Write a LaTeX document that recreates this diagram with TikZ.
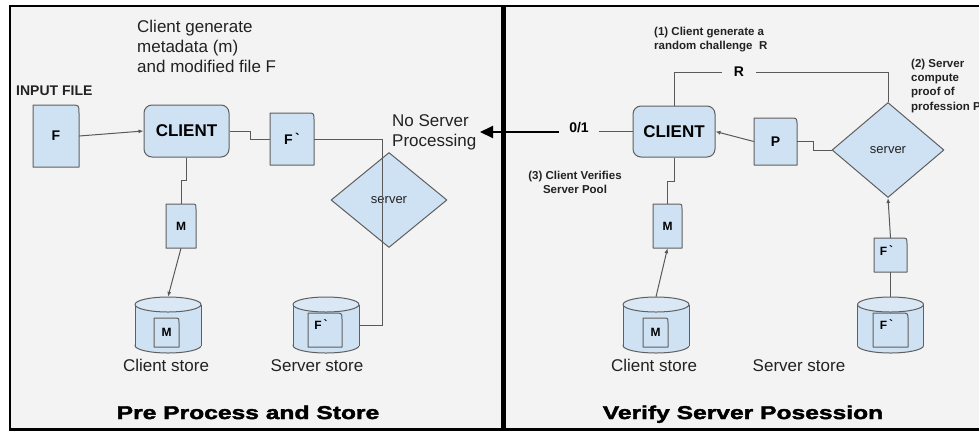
\documentclass[tikz,border=0pt]{standalone}
\usepackage{fontspec}
\setmainfont{Liberation Sans}[Ligatures=TeXOff]
\newfontfamily\heavyfont[FakeBold=2.2,FakeStretch=1.33,Ligatures=TeXOff]{Liberation Sans Bold}
\usetikzlibrary{arrows.meta,calc,shapes.geometric}
\definecolor{bgc}{HTML}{F3F3F3}
\definecolor{cfill}{HTML}{CFE2F3}
\definecolor{ctop}{HTML}{DAE8F5}
\definecolor{bord}{HTML}{5F5F5F}
\definecolor{conn}{HTML}{595959}
\definecolor{txt}{HTML}{222222}
\tikzset{
  frame/.style={draw=black, line width=2.5pt},
  shp/.style={draw=bord, fill=cfill, line width=1pt, line join=round},
  shpline/.style={draw=bord, line width=1pt},
  cn/.style={draw=conn, line width=1pt},
  ar/.style={cn, -{Latex[length=5pt,width=4pt]}},
  bigar/.style={draw=black, line width=2pt, -{Triangle[length=13pt,width=12pt]}},
  lbl/.style={font=\bfseries\fontsize{14}{16}\selectfont, text=black},
  lblsm/.style={font=\bfseries\fontsize{12}{14}\selectfont, text=black},
  big/.style={font=\fontsize{17}{20}\selectfont, text=txt, inner sep=0pt},
  small/.style={font=\bfseries\fontsize{11.5}{14.3}\selectfont, text=txt, inner sep=0pt},
  title/.style={font=\heavyfont\fontsize{18.5}{20}\selectfont, text=black, inner sep=0pt},
  clientbox/.style={shp, rounded corners=8pt, minimum width=85pt, minimum height=52pt, inner sep=0pt, font=\bfseries\fontsize{17}{19}\selectfont},
  srv/.style={shp, diamond, minimum width=116pt, minimum height=95pt, inner sep=0pt, font=\fontsize{13}{15}\selectfont, text=txt},
}
% document shape: name, x1, y1, x2, y2, corner radius, label options, label text
\newcommand\docshape[8]{%
  \draw[shp] (#2,#5) -- (#2,#3) -- ({#4-#6},#3) .. controls (#4,#3) .. (#4,{#3+#6}) -- (#4,#5) -- cycle;
  \node[minimum width={(#4-#2)*1pt}, minimum height={(#5-#3)*1pt}, inner sep=0pt,
        label={[#7]center:#8}] (#1) at ({(#2+#4)/2},{(#3+#5)/2}) {};
}
% cylinder: name, cx, cy
\newcommand\cylshape[3]{%
  \node[minimum width=66pt, minimum height=56pt, inner sep=0pt] (#1) at (#2,#3) {};
  \filldraw[shp] (#2,{#3+20.5}) ellipse [x radius=33, y radius=7.5];
  \fill[cfill] ({#2-33},{#3-20.5}) rectangle ({#2+33},{#3+20.5});
  \draw[shpline] ({#2-33},{#3-20.5}) -- ({#2-33},{#3+20.5}) ({#2+33},{#3-20.5}) -- ({#2+33},{#3+20.5});
  \filldraw[shp, fill=ctop] (#2,{#3-20.5}) ellipse [x radius=33, y radius=7.5];
}
\newcommand\fprime{F\,\raisebox{1pt}{\symbol{96}}}
\begin{document}
\begin{tikzpicture}[x=1pt,y=-1pt]
\useasboundingbox (0,0) rectangle (979,432);
% panels
\fill[bgc] (10,6) rectangle (502,429);
\fill[bgc] (505,6) rectangle (979,429);
\draw[frame] (10,6) rectangle (502.5,429.5);
\draw[frame] (979,6) -- (505,6) -- (505,429.5) -- (979,429.5);

% ================= LEFT PANEL =================
\node[big, anchor=north west, align=left] (cg) at (137,19.8) {Client generate\\metadata (m)\\and modified file F};
\node[font=\bfseries\fontsize{14}{16}\selectfont, text=txt, anchor=base west, inner sep=0pt] (inp) at (16,95) {INPUT FILE};

\docshape{lf}{33}{105}{79}{167}{8}{lbl}{F}
\node[clientbox] (lc) at (186.5,131) {CLIENT};
\docshape{lfp}{270}{113}{314}{165}{7}{lbl}{\fprime}
\docshape{lm}{166}{204}{196}{248}{5}{lblsm}{M}

\node[srv] (ld) at (389,200) {server};
\node[big, anchor=north west, align=left] (nsp) at (392,114.8) {No Server\\Processing};

\cylshape{lcs}{168}{325}
\docshape{lcsm}{154}{318}{179}{347}{5}{lblsm}{M}
\cylshape{lss}{326}{325}
\docshape{lssf}{308}{313}{342}{347}{7}{lblsm, xshift=-4pt, yshift=5pt}{\fprime}

\node[big, anchor=base] (lcst) at (166,371) {Client store};
\node[big, anchor=base] (lsst) at (317,371) {Server store};
\node[title, anchor=base] (lt) at (248,419) {Pre Process and Store};

% left connectors
\draw[ar] (lf.east) -- (lc.west);
\draw[cn] (lc.east) -- ++(21,0) |- (lfp.west);
\draw[cn] (lfp.east) -| ($(lss.east)+(23,0)$) -- (lss.east);
\draw[cn] (lc.south) -- ++(0,23) -| (lm.north);
\draw[ar] (lm.south) -- (lcs.north);

% ================= RIGHT PANEL =================
\node[small, anchor=north west, align=left] (t1) at (654,26.6) {(1) Client generate a\\random challenge\ \ R};
\node[small, anchor=north west, align=left] (t2) at (911,58.6) {(2) Server\\compute\\proof of\\profession P};
\node[small, anchor=north, align=center] (t3) at (575,170.6) {(3) Client Verifies\\Server Pool};

\node[clientbox, minimum width=82pt, minimum height=51pt] (rc) at (674,131.5) {CLIENT};
\node[font=\bfseries\fontsize{14}{16}\selectfont, text=black, inner xsep=12pt, inner ysep=2pt] (rr) at (739,72) {R};
\node[font=\bfseries\fontsize{14}{16}\selectfont, text=black, inner xsep=10pt, inner ysep=2pt] (z) at (579,128) {0/1};
\coordinate (tip) at (480,132);

\docshape{rp}{754}{118}{797}{165}{7}{lbl}{P}
\node[srv, minimum width=112pt] (rd) at (888,150) {server};
\docshape{rm}{653}{204}{682}{248}{5}{lblsm}{M}
\docshape{rf}{874}{238}{907}{272}{6}{lblsm, xshift=-4pt, yshift=4pt}{\fprime}

\cylshape{rcs}{656}{325}
\docshape{rcsm}{643}{318}{668}{347}{5}{lblsm}{M}
\cylshape{rss}{890.5}{325}
\docshape{rssf}{873}{313}{908}{347}{7}{lblsm, xshift=-4pt, yshift=5pt}{\fprime}

\node[big, anchor=base] (rcst) at (654,371) {Client store};
\node[big, anchor=base] (rsst) at (799,371) {Server store};
\node[title, anchor=base] (rt) at (743,419) {Verify Server Posession};

% right connectors
\draw[bigar] (z.west |- tip) -- (tip);
\draw[cn] (z.east |- rc.west) -- (rc.west);
\draw[cn] (rc.north) |- (rr.west);
\draw[cn] (rr.east) -| (rd.north);
\draw[ar] (rp.west) -- (rc.east);
\draw[cn] (rp.east) -- ++(16,0) |- (rd.west);
\draw[cn] (rc.south) -- ++(0,24) -| (rm.north);
\draw[ar] (rcs.north) -- (rm.south);
\draw[cn] (rss.north) -- (rf.south);
\draw[ar] (rf.north) -- (rd.south);
\end{tikzpicture}
\end{document}
